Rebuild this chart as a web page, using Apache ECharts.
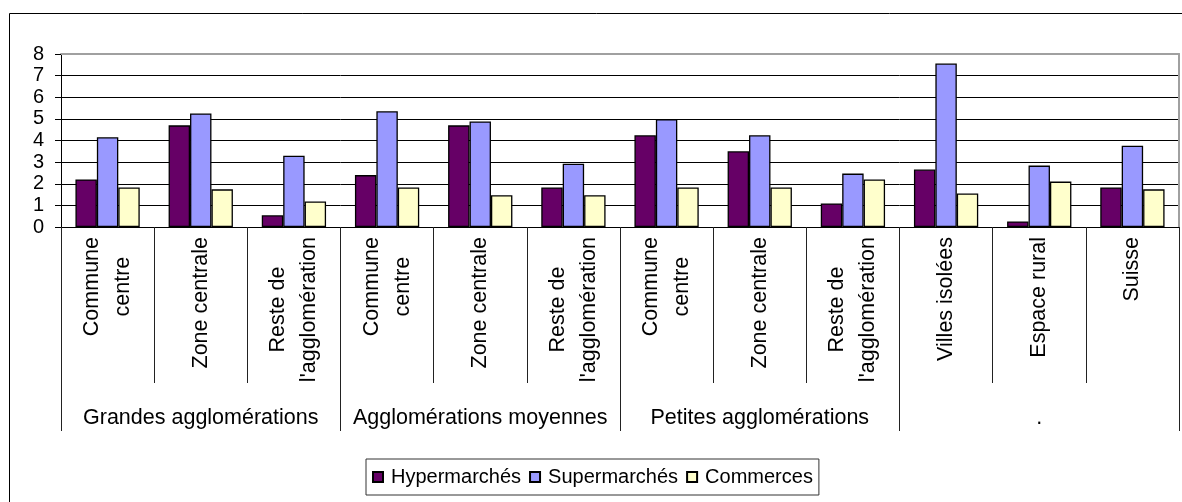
<!DOCTYPE html>
<html>
<head>
<meta charset="utf-8">
<script src="https://cdn.jsdelivr.net/npm/echarts@6/dist/echarts.min.js"></script>
<style>
html,body{margin:0;padding:0;background:#fff;}
#c{width:1182px;height:502px;}
</style>
</head>
<body>
<div id="c"></div>
<script>
const categories = ['Commune\ncentre', 'Zone centrale', "Reste de\nl'agglomération",
  'Commune\ncentre', 'Zone centrale', "Reste de\nl'agglomération",
  'Commune\ncentre', 'Zone centrale', "Reste de\nl'agglomération",
  'Villes isolées', 'Espace rural', 'Suisse'];
const groups = ['Grandes agglomérations', 'Agglomérations moyennes', 'Petites agglomérations', '.'];
const seriesNames = ['Hypermarchés', 'Supermarchés', 'Commerces'];
const hyper = [2.2, 4.7, 0.54, 2.4, 4.7, 1.83, 4.24, 3.5, 1.09, 2.66, 0.26, 1.83];
const superm = [4.15, 5.25, 3.3, 5.35, 4.88, 2.93, 4.98, 4.24, 2.47, 7.56, 2.84, 3.76];
const comm = [1.83, 1.74, 1.18, 1.83, 1.47, 1.47, 1.83, 1.83, 2.2, 1.55, 2.1, 1.74];
const yTicks = [0, 1, 2, 3, 4, 5, 6, 7, 8];

const FONT = "'Liberation Sans', Arial, sans-serif";
const colors = ['#660066', '#9999FF', '#FFFFCC'];
const chart = echarts.init(document.getElementById('c'));

function bar(name, data, color) {
  return {
    name: name, type: 'bar', data: data, xAxisIndex: 0, yAxisIndex: 0,
    barGap: '0%', barCategoryGap: '31%',
    itemStyle: { color: color, borderColor: '#000', borderWidth: 1.3 },
    emphasis: { disabled: true }
  };
}

chart.setOption({
  animation: false,
  textStyle: { fontFamily: FONT },
  graphic: [{
    type: 'rect', shape: { x: 9.5, y: 13.5, width: 1400, height: 1000 },
    style: { fill: 'none', stroke: '#000', lineWidth: 1 }, silent: true, z: -10
  }],
  grid: { left: 61, right: 3, top: 54, bottom: 275, containLabel: false },
  legend: {
    data: seriesNames, left: 366, top: 459,
    padding: [8, 6], itemGap: 8, itemWidth: 10, itemHeight: 10,
    icon: 'rect', borderColor: '#333', borderWidth: 1,
    textStyle: { fontSize: 20, fontFamily: FONT, color: '#000', padding: [0, 0, 0, 3] }
  },
  xAxis: [{
    type: 'category', data: categories, position: 'bottom', gridIndex: 0,
    axisLine: { show: true, lineStyle: { color: '#000', width: 1 } },
    axisTick: { show: true, length: 156, interval: 0, lineStyle: { color: '#222', width: 1 } },
    axisLabel: {
      interval: 0, rotate: 90, margin: 10, color: '#000',
      fontSize: 21.5, fontFamily: FONT, lineHeight: 31,
      formatter: function (v) { return v.split('\n').map(function (s) { return '{c|' + s + '}'; }).join('\n'); },
      rich: { c: { align: 'center', fontSize: 21.5, fontFamily: FONT, lineHeight: 31, color: '#000' } }
    }
  }, {
    type: 'category', data: groups, position: 'bottom', gridIndex: 0, offset: 0,
    axisLine: { show: false },
    axisTick: { show: true, length: 204, interval: 0, lineStyle: { color: '#222', width: 1 } },
    axisLabel: { interval: 0, margin: 180, color: '#000', fontSize: 21.5, fontFamily: FONT }
  }, {
    type: 'category', data: groups, position: 'top', gridIndex: 0,
    axisLine: { show: true, lineStyle: { color: '#a0a0a0', width: 2 } },
    axisTick: { show: false }, axisLabel: { show: false }
  }],
  yAxis: [{
    type: 'value', min: yTicks[0], max: yTicks[yTicks.length - 1], interval: 1,
    axisLine: { show: true, lineStyle: { color: '#000', width: 1 } },
    axisTick: { show: true, length: 6, lineStyle: { color: '#000' } },
    axisLabel: { margin: 17, color: '#000', fontSize: 20, fontFamily: FONT },
    splitLine: { show: true, lineStyle: { color: ['#000', '#000', '#000', '#000', '#000', '#000', '#000', '#000', '#a0a0a0'], width: 1 } }
  }, {
    type: 'value', position: 'right', min: yTicks[0], max: yTicks[yTicks.length - 1], interval: 1,
    axisLine: { show: true, lineStyle: { color: '#a0a0a0', width: 2 } },
    axisTick: { show: false }, axisLabel: { show: false }, splitLine: { show: false }
  }],
  series: [
    bar(seriesNames[0], hyper, colors[0]),
    bar(seriesNames[1], superm, colors[1]),
    bar(seriesNames[2], comm, colors[2])
  ]
});
</script>
</body>
</html>
